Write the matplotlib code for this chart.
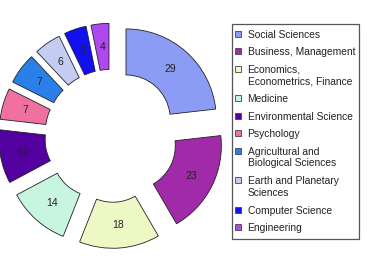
import matplotlib
matplotlib.use("Agg")
import matplotlib.pyplot as plt
from matplotlib.patches import Rectangle

categories = ["Social Sciences", "Business, Management", "Economics,\nEconometrics, Finance",
              "Medicine", "Environmental Science", "Psychology",
              "Agricultural and\nBiological Sciences", "Earth and Planetary\nSciences",
              "Computer Science", "Engineering"]
values = [29, 23, 18, 14, 12, 7, 7, 6, 5, 4]
colors = ["#8c9cf4", "#a12aa9", "#eef8c4", "#c8f5e0", "#5200a0",
          "#f070a0", "#2a80e8", "#c4ccf4", "#1010f0", "#b048f0"]

plt.rcParams['font.family'] = ['Liberation Sans', 'DejaVu Sans']

W, H = 367, 274
fig = plt.figure(figsize=(W / 100, H / 100), dpi=100)
fig.patch.set_facecolor("white")
ax = fig.add_axes([0, 0, 1, 1])

R = 90.3
cx, cy = 111.2, 135.8
total = sum(values)
wedges, texts, autotexts = ax.pie(
    values, colors=colors, startangle=90, counterclock=False,
    explode=[0.246] * len(values), radius=1.0,
    wedgeprops=dict(width=0.51, edgecolor="#222222", linewidth=0.6),
    autopct=lambda p: f"{p * total / 100:.0f}", pctdistance=0.745,
    textprops=dict(fontsize=7.5, color="#222222"))

ax.set_xlim(-cx / R, (W - cx) / R)
ax.set_ylim(-(H - cy) / R, cy / R)
ax.set_aspect("auto")
ax.axis("off")

# legend (manual, pixel coordinates)
def fx(x):
    return x / W

def fy(y):
    return 1 - y / H

fig.patches.append(Rectangle((fx(231.7), fy(239)), fx(359) - fx(231.7), fy(24) - fy(239),
                             transform=fig.transFigure, facecolor="white",
                             edgecolor="#555555", linewidth=0.9, zorder=0))
y = 33.7
for lab, col in zip(categories, colors):
    n = lab.count("\n") + 1
    fig.patches.append(Rectangle((fx(235.3), fy(y + 3)), 6 / W, 6 / H,
                                 transform=fig.transFigure, facecolor=col,
                                 edgecolor="#444444", linewidth=0.6))
    fig.text(fx(247.5), fy(y - 4), lab, fontsize=7.4, color="#222222",
             ha="left", va="top", linespacing=1.2, transform=fig.transFigure)
    y += 17.5 + 12 * (n - 1)

fig.savefig("out.png", dpi=100, facecolor="white")
